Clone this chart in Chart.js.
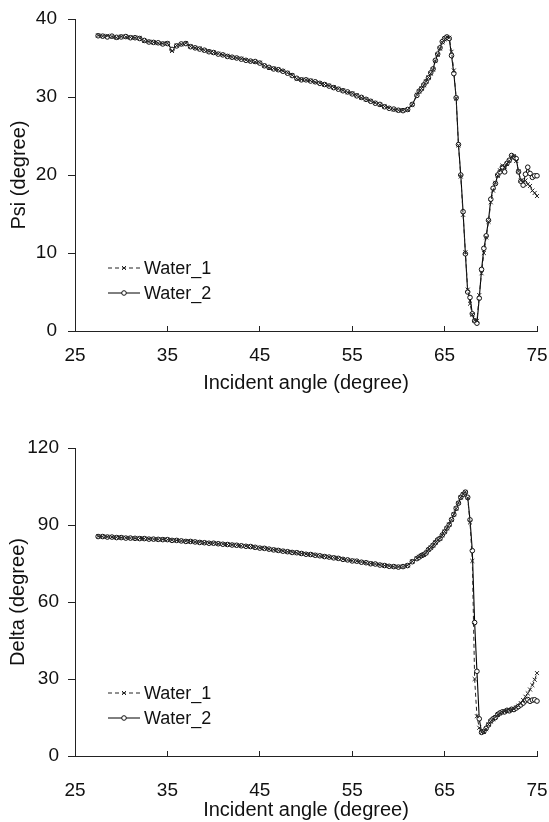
<!DOCTYPE html>
<html>
<head>
<meta charset="utf-8">
<script src="https://cdn.jsdelivr.net/npm/chart.js@4.4.1/dist/chart.umd.min.js"></script>
<style>
  body { margin: 0; background: #fff; }
  .box { position: absolute; left: 0; width: 549px; }
  #psiBox { top: 0; height: 400px; }
  #deltaBox { top: 400px; height: 422px; }
</style>
</head>
<body>
<div class="box" id="psiBox"><canvas id="psiChart"></canvas></div>
<div class="box" id="deltaBox"><canvas id="deltaChart"></canvas></div>
<script>
// incident angles (degree), shared by both measurements
const angles = [
  27.5, 28, 28.5, 29, 29.5, 30, 30.5, 31, 31.5, 32, 32.5, 33, 33.5, 34, 34.5,
  35, 35.5, 36, 36.5, 37, 37.5, 38, 38.5, 39, 39.5, 40, 40.5, 41, 41.5, 42,
  42.5, 43, 43.5, 44, 44.5, 45, 45.5, 46, 46.5, 47, 47.5, 48, 48.5, 49, 49.5,
  50, 50.5, 51, 51.5, 52, 52.5, 53, 53.5, 54, 54.5, 55, 55.5, 56, 56.5, 57,
  57.5, 58, 58.5, 59, 59.5, 60, 60.5, 61, 61.5,
  62, 62.25, 62.5, 62.75, 63, 63.25, 63.5, 63.75, 64, 64.25, 64.5, 64.75,
  65, 65.25, 65.5, 65.75, 66, 66.25, 66.5, 66.75, 67, 67.25, 67.5, 67.75,
  68, 68.25, 68.5, 68.75, 69, 69.25, 69.5, 69.75, 70, 70.25, 70.5, 70.75,
  71, 71.25, 71.5, 71.75, 72, 72.25, 72.5, 72.75, 73, 73.25, 73.5, 73.75,
  74, 74.25, 74.5, 74.75, 75
];

const psiWater1 = [
  37.9, 37.8, 37.85, 37.75, 37.6, 37.75, 37.7, 37.65, 37.6, 37.55, 37.2, 37.1, 37.0, 36.9, 36.85,
  36.9, 35.9, 36.6, 36.75, 36.9, 36.5, 36.3, 36.2, 36.0, 35.85, 35.7, 35.55, 35.4, 35.25, 35.1,
  35.0, 34.9, 34.75, 34.6, 34.5, 34.4, 34.0, 33.75, 33.65, 33.5, 33.35, 33.1, 32.8, 32.35, 32.25,
  32.2, 32.1, 31.9, 31.8, 31.6, 31.45, 31.25, 31.05, 30.85, 30.6, 30.45, 30.2, 29.9, 29.7, 29.5,
  29.25, 29.0, 28.8, 28.6, 28.4, 28.3, 28.3, 28.35, 29.0,
  30.3, 30.7, 31.1, 31.5, 32.0, 32.5, 33.0, 33.5, 34.6, 35.4, 36.2, 37.0,
  37.4, 37.7, 37.6, 35.8, 33.4, 29.8, 23.8, 19.8, 14.9, 10.1, 5.3, 3.5,
  2.1, 1.4, 1.3, 4.6, 7.4, 10.0, 12.0, 14.0, 16.5, 18.0, 19.0, 19.9,
  20.6, 21.2, 21.0, 21.4, 21.8, 22.3, 22.4, 21.8, 20.5, 19.3, 19.1, 19.3,
  18.8, 18.6, 18.0, 17.7, 17.3
];

const psiWater2 = [
  37.85, 37.8, 37.7, 37.8, 37.65, 37.7, 37.75, 37.6, 37.6, 37.5, 37.25, 37.05, 37.0, 36.95, 36.8,
  36.85, 36.1, 36.55, 36.8, 36.85, 36.45, 36.3, 36.15, 36.0, 35.8, 35.7, 35.5, 35.4, 35.2, 35.1,
  35.0, 34.85, 34.7, 34.6, 34.55, 34.35, 34.0, 33.8, 33.6, 33.5, 33.3, 33.05, 32.75, 32.4, 32.2,
  32.2, 32.05, 31.95, 31.75, 31.6, 31.4, 31.2, 31.0, 30.8, 30.65, 30.4, 30.15, 29.95, 29.7, 29.45,
  29.2, 29.05, 28.75, 28.55, 28.45, 28.3, 28.25, 28.4, 29.05,
  30.2, 30.75, 31.05, 31.55, 31.95, 32.45, 33.1, 33.6, 34.7, 35.5, 36.3, 37.1,
  37.5, 37.7, 37.5, 35.3, 33.0, 29.9, 23.9, 20.0, 15.3, 9.9, 5.0, 4.3,
  2.2, 1.3, 1.0, 4.2, 7.9, 10.6, 12.2, 14.2, 16.9, 18.3, 18.9, 20.0,
  20.4, 21.0, 20.4, 21.5, 21.9, 22.5, 22.3, 22.1, 20.4, 19.2, 18.7, 20.1,
  21.0, 20.2, 19.7, 19.9, 19.9
];

const deltaWater1 = [
  85.6, 85.5, 85.4, 85.3, 85.2, 85.1, 85.0, 84.9, 84.8, 84.8, 84.7, 84.6, 84.5, 84.4, 84.4,
  84.3, 84.1, 84.0, 83.8, 83.7, 83.6, 83.4, 83.3, 83.1, 83.0, 82.9, 82.7, 82.6, 82.4, 82.3,
  82.1, 81.9, 81.8, 81.6, 81.3, 81.1, 80.9, 80.6, 80.4, 80.1, 79.9, 79.6, 79.4, 79.2, 78.9,
  78.7, 78.5, 78.3, 78.0, 77.8, 77.5, 77.3, 77.0, 76.7, 76.4, 76.1, 75.9, 75.6, 75.3, 75.0,
  74.8, 74.5, 74.2, 74.0, 73.8, 73.7, 73.8, 74.3, 75.8,
  77.0, 77.6, 78.0, 78.4, 79.2, 80.3, 81.2, 82.0, 83.2, 84.1, 84.8, 86.0,
  87.4, 88.7, 90.2, 92.0, 94.2, 96.4, 98.6, 100.7, 102.0, 102.9, 100.5, 91.0,
  76.0, 30.0, 15.5, 11.0, 9.3, 9.4, 10.5, 12.3, 13.4, 14.3, 15.2, 16.0,
  16.6, 17.0, 17.4, 17.6, 17.8, 18.0, 18.3, 18.9, 19.6, 20.6, 21.8, 23.1,
  24.4, 25.9, 27.6, 29.7, 32.3
];

const deltaWater2 = [
  85.5, 85.5, 85.3, 85.3, 85.1, 85.1, 84.9, 84.9, 84.8, 84.7, 84.7, 84.5, 84.5, 84.4, 84.3,
  84.3, 84.0, 84.0, 83.8, 83.6, 83.6, 83.4, 83.2, 83.1, 82.9, 82.9, 82.7, 82.5, 82.4, 82.2,
  82.1, 81.9, 81.7, 81.6, 81.3, 81.0, 80.9, 80.6, 80.3, 80.1, 79.8, 79.6, 79.3, 79.2, 78.9,
  78.6, 78.5, 78.2, 78.0, 77.7, 77.5, 77.2, 77.0, 76.6, 76.4, 76.0, 75.9, 75.5, 75.3, 74.9,
  74.8, 74.4, 74.2, 73.9, 73.8, 73.6, 73.8, 74.2, 75.7,
  76.9, 77.5, 78.1, 78.5, 79.1, 80.4, 81.1, 82.1, 83.1, 84.2, 84.7, 86.1,
  87.3, 88.8, 90.1, 92.1, 94.1, 96.5, 98.5, 100.8, 101.9, 102.8, 100.8, 92.0,
  80.0, 52.0, 33.0, 14.5, 9.2, 9.6, 10.8, 12.1, 13.7, 14.5, 15.0, 16.2,
  16.8, 17.2, 17.2, 17.8, 17.6, 18.2, 18.1, 18.7, 19.3, 19.9, 20.6, 21.5,
  22.0, 21.3, 21.8, 21.9, 21.4
];

const xTicks = [25, 35, 45, 55, 65, 75];
const psiTicks = [0, 10, 20, 30, 40];
const deltaTicks = [0, 30, 60, 90, 120];

const FONT = "'Liberation Sans', Arial, sans-serif";
const INK = "#111";
const AXIS = "#222";

function pts(ys) {
    return angles.map((a, i) => ({ x: a, y: ys[i] }));
}

// legend drawn inside the plot, lower left
const insideLegend = {
    id: "insideLegend",
    afterDraw(chart) {
        const ctx = chart.ctx;
        const area = chart.chartArea;
        const x0 = area.left + 33;
        const x1 = area.left + 65;
        ctx.save();
        chart.data.datasets.forEach((ds, i) => {
            const y = area.bottom - 63 + i * 25;
            ctx.strokeStyle = ds.borderColor;
            ctx.lineWidth = 1;
            ctx.setLineDash(ds.borderDash || []);
            ctx.beginPath();
            ctx.moveTo(x0, y);
            ctx.lineTo(x1, y);
            ctx.stroke();
            ctx.setLineDash([]);
            ctx.fillStyle = "#fff";
            ctx.strokeStyle = ds.pointBorderColor;
            Chart.helpers.drawPoint(ctx, {
                pointStyle: ds.pointStyle,
                radius: ds.pointRadius,
                borderWidth: 1,
                rotation: 0
            }, (x0 + x1) / 2, y);
            ctx.fillStyle = INK;
            ctx.font = "18px " + FONT;
            ctx.textAlign = "left";
            ctx.textBaseline = "middle";
            ctx.fillText(ds.label, x1 + 4, y + 1);
        });
        ctx.restore();
    }
};

function makeChart(canvasId, yTitle, yTicks, w1, w2, lay) {
    const datasets = [
        {
            label: "Water_1",
            data: pts(w1),
            borderColor: "#222",
            backgroundColor: "#fff",
            borderWidth: 1,
            borderDash: [4, 3],
            pointStyle: "crossRot",
            pointRadius: 2.8,
            pointBorderWidth: 1,
            pointBorderColor: "#222"
        },
        {
            label: "Water_2",
            data: pts(w2),
            borderColor: "#000",
            backgroundColor: "#fff",
            borderWidth: 1.1,
            pointStyle: "circle",
            pointRadius: 2.3,
            pointBorderWidth: 1,
            pointBorderColor: "#111"
        }
    ];

    return new Chart(document.getElementById(canvasId), {
        type: "line",
        data: { datasets: datasets },
        options: {
            responsive: true,
            maintainAspectRatio: false,
            animation: false,
            devicePixelRatio: 1,
            clip: false,
            layout: { padding: { top: lay.padTop, right: 12, left: 0, bottom: 0 } },
            elements: { line: { tension: 0 } },
            plugins: { legend: { display: false }, tooltip: { enabled: false } },
            scales: {
                x: {
                    type: "linear",
                    min: xTicks[0],
                    max: xTicks[xTicks.length - 1],
                    afterBuildTicks: (s) => { s.ticks = xTicks.map(v => ({ value: v })); },
                    afterFit: (s) => { s.height = lay.xHeight; s.paddingLeft = 0; s.paddingRight = 0; },
                    ticks: { color: INK, font: { size: 19, family: FONT }, padding: lay.xLabelPad, maxRotation: 0, autoSkip: false },
                    grid: { drawOnChartArea: false, drawTicks: true, tickLength: -5, color: AXIS, lineWidth: 1 },
                    border: { display: true, color: AXIS, width: 1 },
                    title: {
                        display: true,
                        text: "Incident angle (degree)",
                        color: INK,
                        font: { size: 20, family: FONT },
                        padding: { top: 0, bottom: lay.xTitlePad }
                    }
                },
                y: {
                    type: "linear",
                    min: yTicks[0],
                    max: yTicks[yTicks.length - 1],
                    afterBuildTicks: (s) => { s.ticks = yTicks.map(v => ({ value: v })); },
                    afterFit: (s) => { s.width = 75; s.paddingTop = 0; s.paddingBottom = 0; },
                    ticks: { color: INK, font: { size: 19, family: FONT }, padding: lay.yLabelPad },
                    grid: { drawOnChartArea: false, drawTicks: true, tickLength: 7, color: AXIS, lineWidth: 1 },
                    border: { display: true, color: AXIS, width: 1 },
                    title: {
                        display: true,
                        text: yTitle,
                        color: INK,
                        font: { size: 20, family: FONT },
                        padding: { top: lay.yTitlePad, bottom: 0 }
                    }
                }
            }
        },
        plugins: [insideLegend]
    });
}

makeChart("psiChart", "Psi (degree)", psiTicks, psiWater1, psiWater2,
    { padTop: 19, xHeight: 69, xLabelPad: 18, xTitlePad: 5, yLabelPad: 11, yTitlePad: 7 });
makeChart("deltaChart", "Delta (degree)", deltaTicks, deltaWater1, deltaWater2,
    { padTop: 48, xHeight: 66, xLabelPad: 28, xTitlePad: 0, yLabelPad: 9, yTitlePad: 6 });
</script>
</body>
</html>
